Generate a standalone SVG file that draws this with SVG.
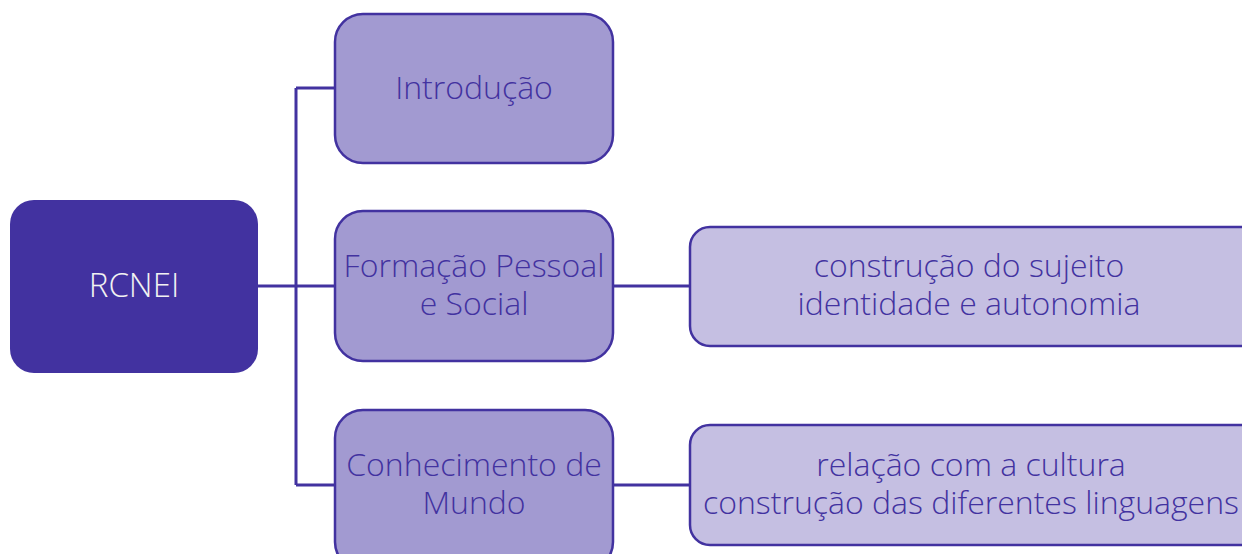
<svg xmlns="http://www.w3.org/2000/svg" width="1242" height="554" viewBox="0 0 1242 554">
<style>
.lvl1{fill:#a29ad1;stroke:#4232a0;stroke-width:2.5}
.lvl2{fill:#c5bfe2;stroke:#4232a0;stroke-width:2.5}
.t{font-family:"Open Sans","Noto Sans",sans-serif;font-weight:350;font-size:32px;fill:#4232a0;text-anchor:middle}
.conn{fill:none;stroke:#4232a0;stroke-width:3}
</style>
<rect width="1242" height="554" fill="#ffffff"/>
<g id="connectors">
<path class="conn" d="M258 286H296M296 88V485M296 88H335M296 286H335M296 485H335M613 286H690M613 485H690"/>
</g>
<g id="rcnei">
<rect x="10" y="200" width="248" height="173" rx="24" fill="#4232a0"/>
<text x="134" y="297" style="font-family:'Open Sans','Noto Sans',sans-serif;font-weight:350;font-size:33px;fill:#f2f2f2;text-anchor:middle">RCNEI</text>
</g>
<g id="introducao">
<rect class="lvl1" x="335" y="14" width="278" height="149" rx="28"/>
<text class="t" x="474" y="99">Introdução</text>
</g>
<g id="formacao">
<rect class="lvl1" x="335" y="211" width="278" height="150" rx="28"/>
<text class="t" x="474" y="277">Formação Pessoal</text>
<text class="t" x="474" y="315">e Social</text>
</g>
<g id="conhecimento">
<rect class="lvl1" x="335" y="410" width="278" height="160" rx="28"/>
<text class="t" x="474" y="476">Conhecimento de</text>
<text class="t" x="474" y="514">Mundo</text>
</g>
<g id="sujeito">
<rect class="lvl2" x="690" y="227" width="580" height="119" rx="20"/>
<text class="t" x="969" y="277">construção do sujeito</text>
<text class="t" x="969" y="315">identidade e autonomia</text>
</g>
<g id="cultura">
<rect class="lvl2" x="690" y="425" width="580" height="120" rx="20"/>
<text class="t" x="971" y="476">relação com a cultura</text>
<text class="t" x="971" y="514">construção das diferentes linguagens</text>
</g>
</svg>
